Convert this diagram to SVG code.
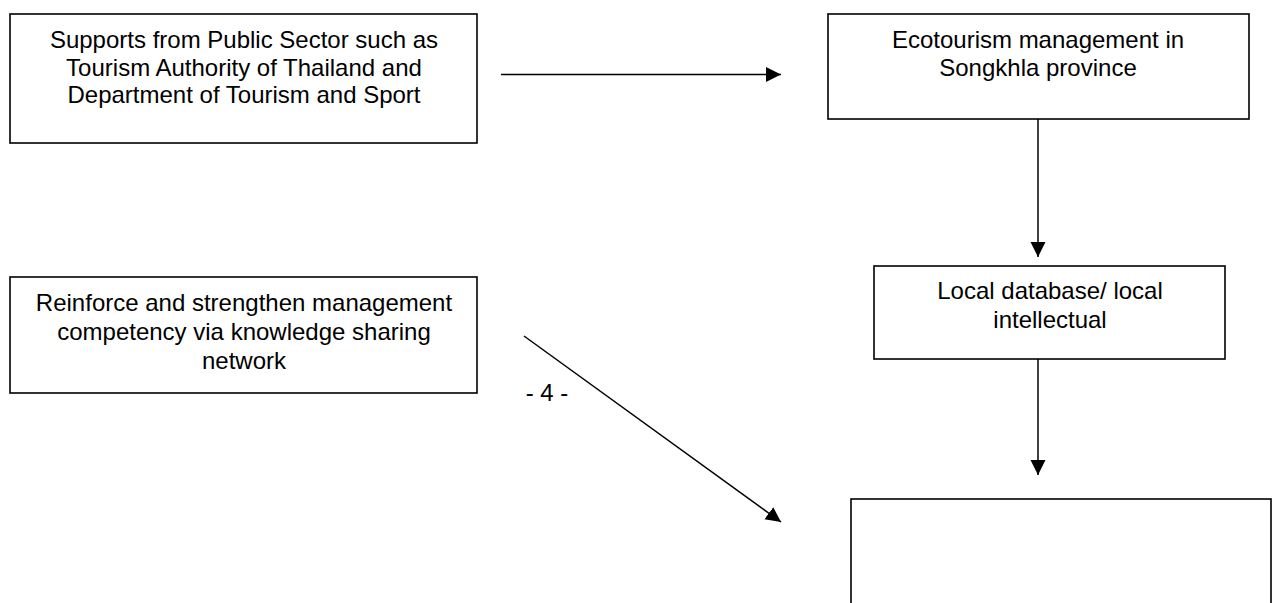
<svg xmlns="http://www.w3.org/2000/svg" width="1279" height="603" viewBox="0 0 1279 603">
<style>
.box{fill:#fff;stroke:#000;stroke-width:1.6}
.t{font-family:"Liberation Sans",Arial,sans-serif;font-size:24px;fill:#000;text-anchor:middle}
.c{stroke:#000;stroke-width:1.5;fill:none}
</style>
<defs>
<marker id="ah" markerUnits="userSpaceOnUse" markerWidth="16" markerHeight="16" refX="15" refY="7.5" orient="auto">
<path d="M0,0 L15,7.5 L0,15 Z" fill="#000"/>
</marker>
</defs>
<rect width="1279" height="603" fill="#fff"/>
<g id="node-public">
<rect class="box" x="10" y="14" width="467" height="129"/>
<text class="t" x="244" y="48">Supports from Public Sector such as</text>
<text class="t" x="244" y="76">Tourism Authority of Thailand and</text>
<text class="t" x="244" y="103">Department of Tourism and Sport</text>
</g>
<g id="node-eco">
<rect class="box" x="828" y="14" width="421" height="105"/>
<text class="t" x="1038" y="48">Ecotourism management in</text>
<text class="t" x="1038" y="76">Songkhla province</text>
</g>
<g id="node-reinforce">
<rect class="box" x="10" y="277" width="467" height="116"/>
<text class="t" x="244" y="311">Reinforce and strengthen management</text>
<text class="t" x="244" y="340">competency via knowledge sharing</text>
<text class="t" x="244" y="369">network</text>
</g>
<g id="node-local">
<rect class="box" x="874" y="266" width="351" height="93"/>
<text class="t" x="1050" y="299">Local database/ local</text>
<text class="t" x="1050" y="328">intellectual</text>
</g>
<g id="node-bottom">
<rect class="box" x="851" y="499" width="420" height="120"/>
</g>
<g id="page-label">
<text class="t" x="547" y="401">- 4 -</text>
</g>
<g id="connectors">
<line class="c" x1="501" y1="74.5" x2="781" y2="74.5" marker-end="url(#ah)"/>
<line class="c" x1="1038" y1="119" x2="1038" y2="257" marker-end="url(#ah)"/>
<line class="c" x1="1038" y1="359" x2="1038" y2="475" marker-end="url(#ah)"/>
<line class="c" x1="524" y1="336" x2="781" y2="522" marker-end="url(#ah)"/>
</g>
</svg>
